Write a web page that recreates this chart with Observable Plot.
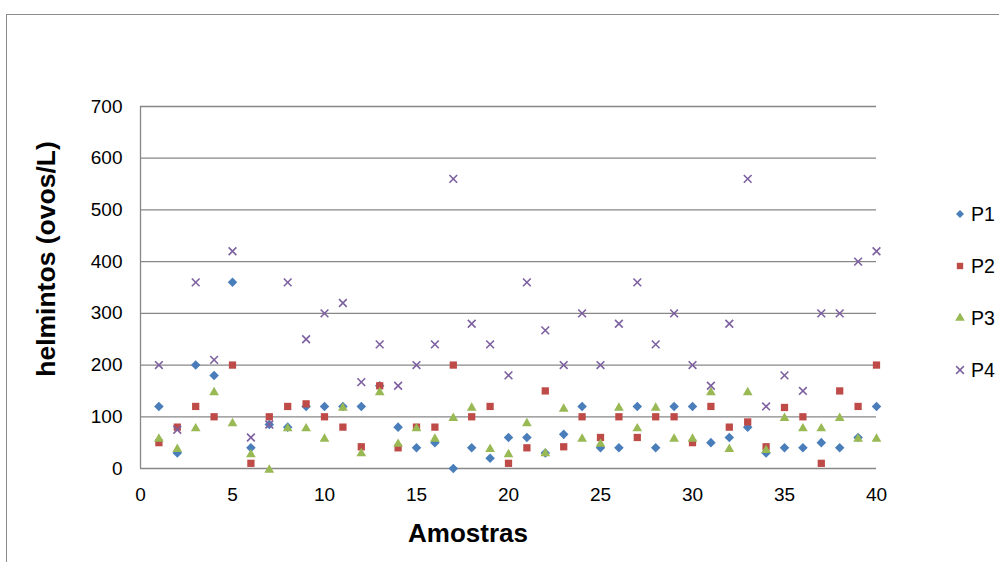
<!DOCTYPE html>
<html><head><meta charset="utf-8">
<script src="https://cdn.jsdelivr.net/npm/d3@7"></script>
<script src="https://cdn.jsdelivr.net/npm/@observablehq/plot@0.6"></script>
<style>
html,body{margin:0;padding:0;background:#fff;}
#wrap{position:relative;width:999px;height:562px;overflow:hidden;font-family:"Liberation Sans",Arial,sans-serif;background:#fff;}
#chart{position:absolute;left:0;top:0;}
#frame{position:absolute;left:6px;top:14px;width:1100px;height:700px;border:1.5px solid #8c8c8c;box-sizing:border-box;pointer-events:none;}
.item{position:absolute;display:flex;align-items:center;font-size:19.5px;color:#000;white-space:nowrap;}
</style></head><body>
<div id="wrap"><div id="chart"></div><div id="frame"></div></div>
<script>
// Data
const amostras = [1,2,3,4,5,6,7,8,9,10,11,12,13,14,15,16,17,18,19,20,21,22,23,24,25,26,27,28,29,30,31,32,33,34,35,36,37,38,39,40];
const P1 = [120,30,200,180,360,40,85,80,120,120,120,120,160,80,40,50,0,40,20,60,60,30,66,120,40,40,120,40,120,120,50,60,80,30,40,40,50,40,60,120];
const P2 = [50,80,120,100,200,10,100,120,125,100,80,42,160,40,80,80,200,100,120,10,40,150,42,100,60,100,60,100,100,50,120,80,90,42,118,100,10,150,120,200];
const P3 = [60,40,80,150,90,30,0,80,80,60,120,32,150,50,80,60,100,120,40,30,90,32,118,60,50,120,80,120,60,60,150,40,150,38,100,80,80,100,60,60];
const P4 = [200,75,360,210,420,60,85,360,250,300,320,167,240,160,200,240,560,280,240,180,360,267,200,300,200,280,360,240,300,200,160,280,560,120,180,150,300,300,400,420];
const seriesNames = ["P1","P2","P3","P4"];
const yTicks = [0,100,200,300,400,500,600,700];
const xTicks = [0,5,10,15,20,25,30,35,40];
const xTitle = "Amostras";
const yTitle = "helmintos (ovos/L)";

const colors = {P1:"#4A7EBB", P2:"#BE4B48", P3:"#98B954", P4:"#7D60A0"};
const symbols = {P1:"diamond2", P2:"square", P3:"triangle", P4:"times"};
const radii = {P1:4.3, P2:4.1, P3:3.6, P4:3.6};
const values = {P1, P2, P3, P4};

const tbl = s => amostras.map((a, i) => ({x: a, y: values[s][i], s}));

const marks = [
  Plot.gridY(yTicks, {stroke: "#878787", strokeOpacity: 1, strokeWidth: 1.3}),
  Plot.ruleX([0], {stroke: "#878787", strokeWidth: 1.3}),
  Plot.axisY(yTicks, {tickSize: 0, tickPadding: 18, label: null}),
  Plot.axisX(xTicks, {tickSize: 0, tickPadding: 19, label: null})
];
for (const s of seriesNames) {
  const filled = s !== "P4";
  marks.push(Plot.dot(tbl(s), {
    x: "x", y: "y", symbol: () => symbols[s], r: radii[s],
    fill: filled ? colors[s] : "none",
    stroke: filled ? "none" : colors[s],
    strokeWidth: filled ? 0 : 1.6,
    dy: s === "P3" ? 1.4 : 0
  }));
}

const chart = Plot.plot({
  width: 999, height: 562,
  marginLeft: 140, marginRight: 123, marginTop: 106, marginBottom: 94,
  x: {domain: [0, 40]},
  y: {domain: [0, 700]},
  symbol: {type: "identity"},
  style: {fontFamily: "'Liberation Sans', Arial, sans-serif", fontSize: "19px", color: "#000", background: "transparent"},
  marks
});
document.getElementById("chart").appendChild(chart);

const svg = d3.select(chart);
svg.append("text").attr("x", 468).attr("y", 533).attr("dy", "0.35em")
  .attr("text-anchor", "middle").attr("font-weight", "bold").attr("font-size", 26)
  .attr("fill", "#000").text(xTitle);
svg.append("text").attr("transform", "translate(46,259) rotate(-90)").attr("dy", "0.35em")
  .attr("text-anchor", "middle").attr("font-weight", "bold").attr("font-size", 26.5)
  .attr("fill", "#000").text(yTitle);

// Legend
const wrap = document.getElementById("wrap");
const symMap = {diamond2: d3.symbolDiamond2, square: d3.symbolSquare, triangle: d3.symbolTriangle, times: d3.symbolTimes};
seriesNames.forEach((s, i) => {
  const div = document.createElement("div");
  div.className = "item";
  div.style.left = "952px";
  div.style.top = (214 + i * 52 - 11) + "px";
  div.style.height = "22px";
  const size = Math.PI * 3.6 * 3.6;
  const p = d3.symbol(symMap[symbols[s]], size)();
  const filled = s !== "P4";
  div.innerHTML = `<svg width="16" height="16" viewBox="-8 -8 16 16" style="margin-right:3px"><path d="${p}" fill="${filled ? colors[s] : "none"}" stroke="${filled ? "none" : colors[s]}" stroke-width="1.5"/></svg><span>${s}</span>`;
  wrap.appendChild(div);
});
</script>
</body></html>
